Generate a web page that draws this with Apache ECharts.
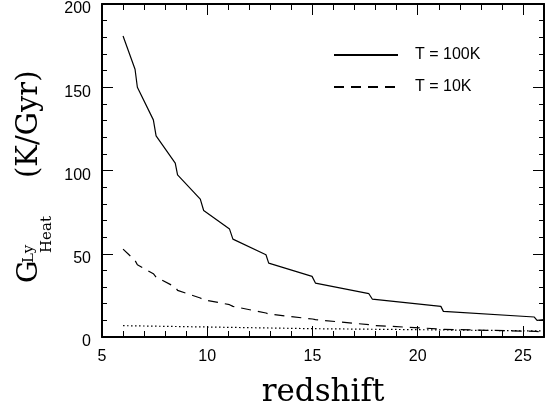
<!DOCTYPE html>
<html>
<head>
<meta charset="utf-8">
<script src="https://cdn.jsdelivr.net/npm/echarts@6/dist/echarts.min.js"></script>
<style>
html,body{margin:0;padding:0;background:#fff;}
#chart{width:555px;height:412px;}
</style>
</head>
<body>
<div id="chart"></div>
<script>
// redshift values and heating rates
const z100 = [6.0, 6.57, 6.68, 7.44, 7.57, 8.48, 8.59, 9.67, 9.83, 11.06, 11.22, 12.79, 12.92, 14.98, 15.14, 17.68, 17.84, 21.1, 21.22, 25.54, 25.67, 26.0];
const g100 = [180.8, 160.8, 150, 130.4, 120.8, 104.4, 97.4, 82.8, 76, 64.8, 58.8, 49.4, 44.4, 36.4, 32.4, 26, 22.8, 18.4, 15.4, 12, 10, 10.4];

const z10 = [6.0, 6.57, 6.68, 7.44, 7.57, 8.48, 8.59, 9.67, 9.83, 11.06, 11.22, 12.79, 12.92, 15.0, 15.14, 17.68, 17.84, 21.1, 21.22, 25.6, 26.0];
const g10 = [52.8, 46, 43.4, 38, 36, 30, 28, 23.4, 22.4, 19.4, 18.4, 14.4, 13.8, 10.8, 10.4, 7.4, 7.0, 4.8, 4.6, 3.4, 3.0];

const zDot = [6, 10, 15, 20, 26];
const gDot = [6.8, 6.0, 5.0, 4.4, 3.6];

const seriesNames = ['T = 100K', 'T = 10K'];
const xTitle = 'redshift';
const yTitleParts = ['G', 'Ly', 'Heat', '(K/Gyr)'];
const xMajor = 5, xMinor = 1;
const yMajor = 50, yMinor = 10;

const pair = (xs, ys) => xs.map((x, i) => [x, ys[i]]);

const chart = echarts.init(document.getElementById('chart'));
const black = '#000';
const sans = 'Liberation Sans';
const serif = 'DejaVu Serif';
const LAYER = 1; // marks, legend and titles on their own canvas layer

function xAx(pos, interval, len, labels, line) {
  return {
    type: 'value', position: pos, min: 5, max: 26, interval: interval,
    axisLine: {show: line, onZero: false, lineStyle: {color: black, width: 2}},
    axisTick: {show: true, inside: true, length: len, lineStyle: {color: black, width: 1}},
    axisLabel: {show: labels, color: black, fontFamily: sans, fontSize: 16, margin: 12, showMaxLabel: false},
    splitLine: {show: false}
  };
}
function yAx(pos, interval, len, labels, line) {
  return {
    type: 'value', position: pos, min: 0, max: 200, interval: interval,
    axisLine: {show: line, onZero: false, lineStyle: {color: black, width: 2}},
    axisTick: {show: true, inside: true, length: len, lineStyle: {color: black, width: 1}},
    axisLabel: {show: labels, color: black, fontFamily: sans, fontSize: 16, margin: 11, verticalAlign: 'top', lineHeight: 10},
    splitLine: {show: false}
  };
}

chart.setOption({
  backgroundColor: '#fff',
  animation: false,
  grid: {left: 102, right: 11, top: 4, bottom: 75, containLabel: false},
  legend: {
    zlevel: LAYER,
    data: seriesNames,
    orient: 'vertical',
    left: 328, top: 42,
    itemWidth: 64, itemHeight: 16, itemGap: 16,
    itemStyle: {opacity: 0},
    textStyle: {fontFamily: sans, fontSize: 16, color: black, padding: [0, 0, 0, 12]}
  },
  xAxis: [
    xAx('bottom', xMajor, 11, true, true),
    xAx('bottom', xMinor, 6, false, false),
    xAx('top', xMajor, 11, false, true),
    xAx('top', xMinor, 6, false, false)
  ],
  yAxis: [
    yAx('left', yMajor, 11, true, true),
    yAx('left', yMinor, 5, false, false),
    yAx('right', yMajor, 11, false, true),
    yAx('right', yMinor, 5, false, false)
  ],
  series: [
    {name: seriesNames[0], type: 'line', zlevel: LAYER, data: pair(z100, g100), symbol: 'none', smooth: false,
     lineStyle: {color: black, width: 1.2, type: 'solid'}, itemStyle: {color: black}},
    {name: seriesNames[1], type: 'line', zlevel: LAYER, data: pair(z10, g10), symbol: 'none', smooth: false,
     lineStyle: {color: black, width: 1.2, type: [10, 7]}, itemStyle: {color: black}},
    {name: 'dotted', type: 'line', zlevel: LAYER, data: pair(zDot, gDot), symbol: 'none', smooth: false,
     lineStyle: {color: black, width: 1.2, type: [1.5, 2.5]}, itemStyle: {color: black}}
  ],
  graphic: [
    {type: 'text', zlevel: LAYER, x: 323, y: 393, style: {text: xTitle, fontFamily: serif, fontSize: 31, fill: black, align: 'center', verticalAlign: 'middle'}},
    {
      type: 'group', zlevel: LAYER, x: 38, y: 283, rotation: Math.PI / 2,
      children: [
        {type: 'text', zlevel: LAYER, x: 0, y: -8.4, style: {text: yTitleParts[0], fontFamily: serif, fontSize: 28, fill: black, align: 'left', verticalAlign: 'middle'}},
        {type: 'text', zlevel: LAYER, x: 20, y: -8.5, style: {text: yTitleParts[1], fontFamily: serif, fontSize: 15, fill: black, align: 'left', verticalAlign: 'middle'}},
        {type: 'text', zlevel: LAYER, x: 30, y: 9.5, style: {text: yTitleParts[2], fontFamily: serif, fontSize: 15, fill: black, align: 'left', verticalAlign: 'middle'}},
        {type: 'text', zlevel: LAYER, x: 105, y: -8.7, style: {text: yTitleParts[3], fontFamily: serif, fontSize: 29, fill: black, align: 'left', verticalAlign: 'middle'}}
      ]
    }
  ]
});
</script>
</body>
</html>
